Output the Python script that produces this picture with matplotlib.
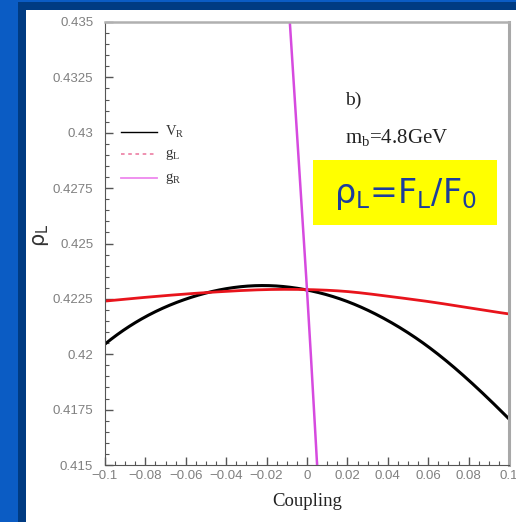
import matplotlib
matplotlib.use("Agg")
import matplotlib.pyplot as plt
from matplotlib.patches import Rectangle
from matplotlib.ticker import MultipleLocator, FuncFormatter
from scipy.interpolate import CubicSpline
import numpy as np

# Couplings and rho_L values for each anomalous coupling
coupling = [-0.1, -0.08, -0.06, -0.04, -0.02, 0.0, 0.02, 0.04, 0.06, 0.08, 0.1]
rho_vr = [0.42046, 0.42169, 0.42249, 0.42296, 0.42310, 0.42290, 0.42238, 0.42152, 0.42034, 0.41883, 0.41708]
rho_gl = [0.42240, 0.42257, 0.42272, 0.42284, 0.42292, 0.42292, 0.42283, 0.42262, 0.42238, 0.42210, 0.42182]
coupling_gr = [-0.012, -0.0085, -0.004, 0.0, 0.005, 0.008]
rho_gr = [0.4400, 0.4350, 0.4287, 0.4229, 0.4150, 0.4100]

x_ticks = [-0.1, -0.08, -0.06, -0.04, -0.02, 0, 0.02, 0.04, 0.06, 0.08, 0.1]
y_ticks = [0.415, 0.4175, 0.42, 0.4225, 0.425, 0.4275, 0.43, 0.4325, 0.435]

fig = plt.figure(figsize=(5.16, 5.22), dpi=100)
fig.patch.set_facecolor("#0b5cc4")

# slide frame
fig.patches.append(Rectangle((18 / 516, 0), 1 - 18 / 516, 1 - 2 / 522, transform=fig.transFigure,
                             facecolor="#003b82", edgecolor="none", zorder=-3))
fig.patches.append(Rectangle((26 / 516, 0), 1 - 26 / 516, 1 - 10 / 522, transform=fig.transFigure,
                             facecolor="white", edgecolor="none", zorder=-2))

ax = fig.add_axes([105 / 516, 57 / 522, 404 / 516, 443 / 522])
ax.set_zorder(1)
ax.set_facecolor("white")


def smooth(xs, ys, n=400):
    cs = CubicSpline(xs, ys)
    xx = np.linspace(xs[0], xs[-1], n)
    return xx, cs(xx)


ax.plot(*smooth(coupling, rho_vr), color="black", lw=2.2, solid_capstyle="butt")
ax.plot(*smooth(coupling, rho_gl), color="#e8141c", lw=2.0)
ax.plot(*smooth(coupling_gr, rho_gr), color="#d64adf", lw=1.8)

ax.set_xlim(-0.1, 0.1)
ax.set_ylim(0.415, 0.435)
ax.set_xticks(x_ticks)
ax.set_yticks(y_ticks)
ax.xaxis.set_minor_locator(MultipleLocator(0.005))
ax.yaxis.set_minor_locator(MultipleLocator(0.0005))


def fmt(v, pos):
    s = ("%.4f" % v).rstrip("0").rstrip(".")
    if s in ("-0", "0"):
        return "0"
    return s.replace("-", "\u2212")


ax.xaxis.set_major_formatter(FuncFormatter(fmt))
ax.yaxis.set_major_formatter(FuncFormatter(fmt))
ax.tick_params(which="both", direction="in", top=False, right=False,
               colors="#555555", labelcolor="#808080", labelsize=9.5)
ax.tick_params(which="major", length=6, width=1)
ax.tick_params(which="minor", length=3, width=0.8)
for lab in ax.get_xticklabels() + ax.get_yticklabels():
    lab.set_family("Liberation Sans")
ax.tick_params(axis="x", pad=3.5)
ax.tick_params(axis="y", pad=8.5)

ax.spines["left"].set_color("#555555")
ax.spines["bottom"].set_color("#555555")
ax.spines["top"].set_color("#b0b0b0")
ax.spines["right"].set_color("#a8a8a8")
ax.spines["top"].set_linewidth(1.8)
ax.spines["right"].set_linewidth(2.2)

ax.set_xlabel("Coupling", family="Liberation Serif", fontsize=13.5, color="#222222", labelpad=8)
fig.text(41 / 516, 1 - 235 / 522, r"$\mathregular{\rho_L}$", fontsize=15, color="#333333",
         rotation=90, ha="center", va="center")

# legend drawn as short line samples with serif labels
legend_items = [("black", "-", 1.0, r"$\mathregular{V_R}$", 132),
                ("#ee88aa", (0, (2, 2)), 1.3, r"$\mathregular{g_L}$", 154),
                ("#ee88ee", "-", 1.3, r"$\mathregular{g_R}$", 178)]
for col, ls, lw, lab, ypx in legend_items:
    yf = 1 - ypx / 522
    fig.add_artist(plt.Line2D([121 / 516, 157 / 516], [yf, yf], color=col, ls=ls, lw=lw,
                              transform=fig.transFigure, zorder=5))
    fig.text(165 / 516, yf, lab, family="Liberation Serif", fontsize=10.5, color="#333333",
             va="center", ha="left", zorder=5)

fig.text(345 / 516, 1 - 100 / 522, "b)", family="Liberation Serif", fontsize=14,
         color="#222222", va="center", zorder=5)
fig.text(345 / 516, 1 - 138 / 522, r"$\mathregular{m_b}$=4.8GeV", family="Liberation Serif",
         fontsize=15, color="#222222", va="center", zorder=5)

fig.patches.append(Rectangle((313 / 516, 1 - 225 / 522), 184 / 516, 65 / 522,
                             transform=fig.transFigure, facecolor="#ffff00",
                             edgecolor="none", zorder=4))
fig.text(405 / 516, 1 - 194 / 522, r"$\mathregular{\rho_L}$=$\mathregular{F_L}$/$\mathregular{F_0}$",
         family="DejaVu Sans", fontsize=24, color="#1c3d9c", ha="center", va="center", zorder=5)

fig.savefig("out.png", dpi=100, facecolor=fig.get_facecolor())
